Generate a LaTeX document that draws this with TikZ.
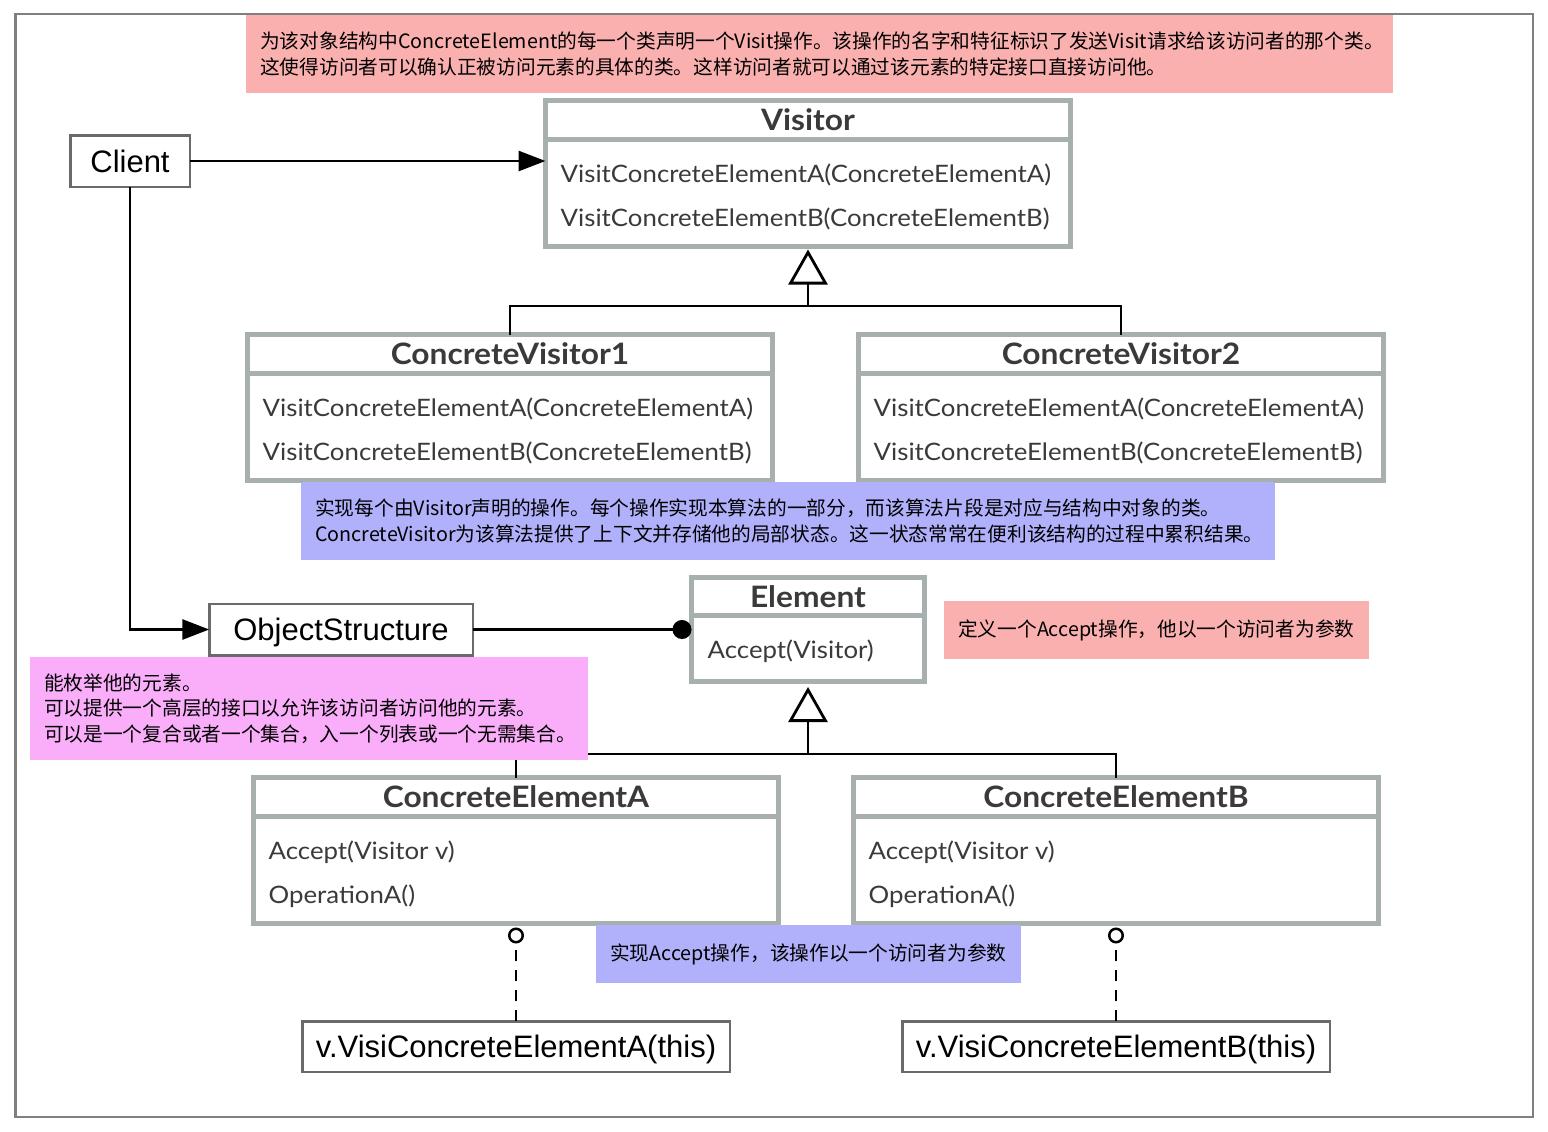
\documentclass[tikz,border=0pt]{standalone}
\usepackage{fontspec}
\newfontfamily\umlfont[FakeStretch=1.075]{Lato}
\newfontfamily\boxfont{Liberation Sans}
\newfontfamily\cjk{Noto Sans CJK SC}
\usetikzlibrary{arrows.meta}
\definecolor{clsgray}{HTML}{A8AFAF}
\definecolor{clstext}{HTML}{3A3A3A}
\definecolor{boxgray}{HTML}{6A6A6A}
\definecolor{framegray}{HTML}{808080}
\definecolor{notepink}{HTML}{FBB0B0}
\definecolor{noteblue}{HTML}{B1B0FB}
\definecolor{notemag}{HTML}{FAAEFA}
\tikzset{
	cls/.style={draw=clsgray, line width=5pt, fill=white, outer sep=0pt, inner sep=0pt, anchor=north},
	clsline/.style={draw=clsgray, line width=5pt},
	clstitle/.style={font={\umlfont\bfseries\fontsize{29.5}{29.5}\selectfont}, text=clstext, inner sep=0pt, anchor=base},
	clsmeth/.style={font={\umlfont\fontsize{24}{24}\selectfont}, text=clstext, inner sep=0pt, anchor=base west},
	plainbox/.style={draw=boxgray, line width=2.5pt, fill=white, outer sep=0pt, inner sep=0pt, text height=22pt, text depth=0pt, font={\boxfont\fontsize{31}{31}\selectfont}},
	note/.style={draw=none, inner sep=0pt, outer sep=0pt, anchor=north west},
	notetext/.style={font={\cjk\fontsize{19.7}{25.5}\selectfont}, align=left, inner sep=0pt, anchor=west},
	link/.style={line width=2.8pt},
	assoc/.style={line width=2.8pt, -{Triangle[length=27pt,width=20pt]}},
	gen/.style={line width=2.8pt, -{Triangle[open,length=35pt,width=39pt]}},
	owns/.style={line width=2.8pt, -{Circle[length=19pt]}},
	lolly/.style={line width=2.5pt, dash pattern=on 11pt off 9pt, -{Circle[open,length=16pt]}},
}
\begin{document}
\begin{tikzpicture}[x=1pt,y=-1pt]
	\useasboundingbox (0,0) rectangle (1548,1132);
	%FRAME
	\draw[framegray, line width=2.5pt] (15.5,14) rectangle (1533,1117);
	
	%CLASSES
	\foreach \nm/\cx/\ty/\ttl/\ma/\mb in {
		visitor/808/100.5/Visitor/VisitConcreteElementA(ConcreteElementA)/VisitConcreteElementB(ConcreteElementB),
		cvone/510/334.5/ConcreteVisitor1/VisitConcreteElementA(ConcreteElementA)/VisitConcreteElementB(ConcreteElementB),
		cvtwo/1121/334.5/ConcreteVisitor2/VisitConcreteElementA(ConcreteElementA)/VisitConcreteElementB(ConcreteElementB),
		cea/516/777.5/ConcreteElementA/Accept(Visitor v)/OperationA(),
		ceb/1116/777.5/ConcreteElementB/Accept(Visitor v)/OperationA()}{
		\node[cls, minimum width=525pt, minimum height=145.5pt] (\nm) at (\cx,\ty) {};
		\draw[clsline] ([yshift=-38.5pt]\nm.north west) -- ([yshift=-38.5pt]\nm.north east);
		\node[clstitle] (\nm-t) at ([yshift=-29.5pt]\nm.north) {\ttl};
		\node[clsmeth] (\nm-a) at ([xshift=15pt,yshift=-81.5pt]\nm.north west) {\ma};
		\node[clsmeth] (\nm-b) at ([xshift=15pt,yshift=-125.5pt]\nm.north west) {\mb};
	}
	\node[cls, minimum width=233pt, minimum height=104pt] (element) at (808,577.5) {};
	\draw[clsline] ([yshift=-38pt]element.north west) -- ([yshift=-38pt]element.north east);
	\node[clstitle] (element-t) at ([yshift=-29.5pt]element.north) {Element};
	\node[clsmeth] (element-a) at ([xshift=16pt,yshift=-81pt]element.north west) {Accept(Visitor)};
	
	%PLAIN BOXES
	\node[plainbox, minimum width=119.5pt, minimum height=51.5pt] (client) at (130,161) {Client};
	\node[plainbox, minimum width=263.5pt, minimum height=51.5pt] (objstruct) at (341,629.5) {ObjectStructure};
	\node[plainbox, minimum width=427.5pt, minimum height=50.5pt] (vca) at (516,1046.5) {v.VisiConcreteElementA(this)};
	\node[plainbox, minimum width=427.5pt, minimum height=50.5pt] (vcb) at (1116,1046.5) {v.VisiConcreteElementB(this)};
	
	%CONNECTORS
	\draw[assoc] (client.east) -- (client.east -| visitor.west);
	\draw[assoc] (client.south) |- (objstruct.west);
	\draw[owns] (objstruct.east) -- (element.west);
	\coordinate (vjoin) at (808,306);
	\draw[link] (cvone.north) |- (vjoin) -| (cvtwo.north);
	\draw[gen] (vjoin) -- ([yshift=-3.5pt]visitor.south);
	\coordinate (ejoin) at (808,754);
	\draw[link] (cea.north) |- (ejoin) -| (ceb.north);
	\draw[gen] (ejoin) -- ([yshift=-5.5pt]element.south);
	\draw[lolly] (vca.north) -- ([yshift=-4.5pt]cea.south);
	\draw[lolly] (vcb.north) -- ([yshift=-4.5pt]ceb.south);
	
	%NOTES
	\node[note, fill=notepink, minimum width=1147.5pt, minimum height=77.7pt] (ntop) at (245.5,15) {};
	\node[notetext] (ntop-t) at ([xshift=14.5pt]ntop.west) {为该对象结构中ConcreteElement的每一个类声明一个Visit操作。该操作的名字和特征标识了发送Visit请求给该访问者的那个类。\\这使得访问者可以确认正被访问元素的具体的类。这样访问者就可以通过该元素的特定接口直接访问他。};
	\node[note, fill=noteblue, minimum width=974pt, minimum height=78pt] (nvisit) at (301,482) {};
	\node[notetext] (nvisit-t) at ([xshift=14pt]nvisit.west) {实现每个由Visitor声明的操作。每个操作实现本算法的一部分，而该算法片段是对应与结构中对象的类。\\ConcreteVisitor为该算法提供了上下文并存储他的局部状态。这一状态常常在便利该结构的过程中累积结果。};
	\node[note, fill=notepink, minimum width=425pt, minimum height=58pt] (nelem) at (944,601) {};
	\node[notetext] (nelem-t) at ([xshift=14pt]nelem.west) {定义一个Accept操作，他以一个访问者为参数};
	\node[note, fill=notemag, minimum width=558pt, minimum height=103pt] (nobj) at (30,657) {};
	\node[notetext] (nobj-t) at ([xshift=14pt]nobj.west) {能枚举他的元素。\\可以提供一个高层的接口以允许该访问者访问他的元素。\\可以是一个复合或者一个集合，入一个列表或一个无需集合。};
	\node[note, fill=noteblue, minimum width=424.5pt, minimum height=58pt] (naccept) at (596,925) {};
	\node[notetext] (naccept-t) at ([xshift=14pt]naccept.west) {实现Accept操作，该操作以一个访问者为参数};
\end{tikzpicture}
\end{document}
